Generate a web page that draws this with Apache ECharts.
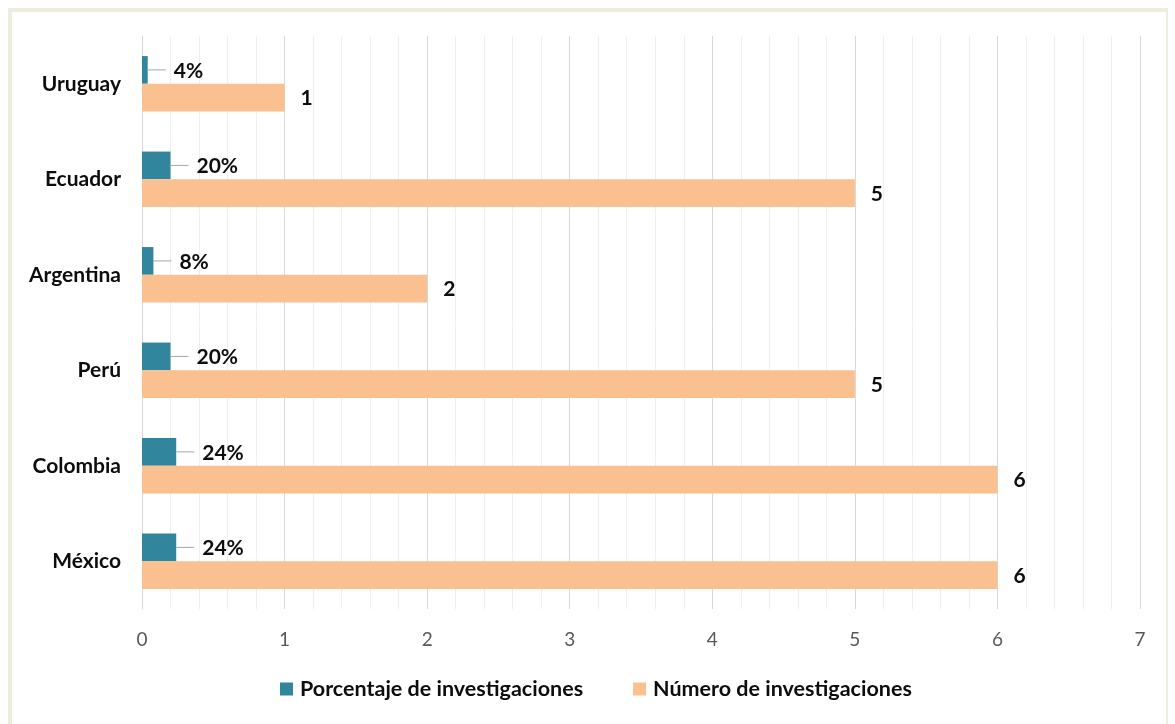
<!DOCTYPE html>
<html>
<head>
<meta charset="utf-8">
<script src="https://cdn.jsdelivr.net/npm/echarts@6/dist/echarts.min.js"></script>
<style>
html,body{margin:0;padding:0;background:#fff;width:1175px;height:724px;overflow:hidden;}
#frame{position:absolute;left:8px;top:8px;width:1160px;height:760px;border-left:4px solid #eeece1;border-top:4px solid #eeece1;border-right:2px solid #eeece1;box-sizing:border-box;}
#chart{position:absolute;left:0;top:0;width:1175px;height:724px;}
</style>
</head>
<body>
<div id="frame"></div>
<div id="chart"></div>
<script>
const categories = ['México', 'Colombia', 'Perú', 'Argentina', 'Ecuador', 'Uruguay'];
const porcentaje = [0.24, 0.24, 0.20, 0.08, 0.20, 0.04];
const numero = [6, 6, 5, 2, 5, 1];
const xTicks = [0, 1, 2, 3, 4, 5, 6, 7];
const seriesNames = ['Porcentaje de investigaciones', 'Número de investigaciones'];

const FONT = 'Lato, "Open Sans", sans-serif';
const chart = echarts.init(document.getElementById('chart'), null, {renderer: 'canvas'});
chart.setOption({
  animation: false,
  textStyle: {fontFamily: FONT},
  grid: {left: 142, right: 35, top: 36, bottom: 115, containLabel: false},
  legend: {
    bottom: 19, left: 275,
    itemWidth: 13, itemHeight: 13, itemGap: 50,
    icon: 'rect',
    textStyle: {fontFamily: FONT, fontWeight: 'bold', fontSize: 21.5, color: '#0d0d0d', padding: [0, 0, 0, 2]},
    data: seriesNames
  },
  xAxis: {
    type: 'value', min: xTicks[0], max: xTicks[xTicks.length - 1], interval: 1,
    axisLine: {show: false}, axisTick: {show: false},
    axisLabel: {color: '#595959', fontSize: 19, margin: 21, fontFamily: FONT},
    splitLine: {show: true, lineStyle: {color: '#d9d9d9', width: 1}},
    minorTick: {show: false, splitNumber: 5},
    minorSplitLine: {show: true, lineStyle: {color: '#eeeeee', width: 1}}
  },
  yAxis: {
    type: 'category', data: categories,
    axisLine: {show: true, lineStyle: {color: '#d9d9d9'}},
    axisTick: {show: false},
    axisLabel: {color: '#0d0d0d', fontWeight: 'bold', fontSize: 21, margin: 21, fontFamily: FONT}
  },
  series: [
    {
      name: seriesNames[0], type: 'bar', data: porcentaje,
      itemStyle: {color: '#31859c'},
      barGap: '0%', barCategoryGap: '42%',
      label: {
        show: true, position: 'right', distance: 0,
        formatter: p => '{l|}{s|}{v|' + Math.round(p.value * 100) + '%}',
        rich: {
          l: {width: 18, height: 1, backgroundColor: '#a6a6a6'},
          s: {width: 8, height: 1},
          v: {color: '#0d0d0d', fontWeight: 'bold', fontSize: 21, fontFamily: FONT, padding: [2, 0, 0, 0]}
        }
      }
    },
    {
      name: seriesNames[1], type: 'bar', data: numero,
      itemStyle: {color: '#fac090'},
      barGap: '0%', barCategoryGap: '42%',
      label: {
        show: true, position: 'right', distance: 16,
        color: '#0d0d0d', fontWeight: 'bold', fontSize: 21, fontFamily: FONT
      },
      labelLayout: {dy: 1}
    }
  ]
});
</script>
</body>
</html>
